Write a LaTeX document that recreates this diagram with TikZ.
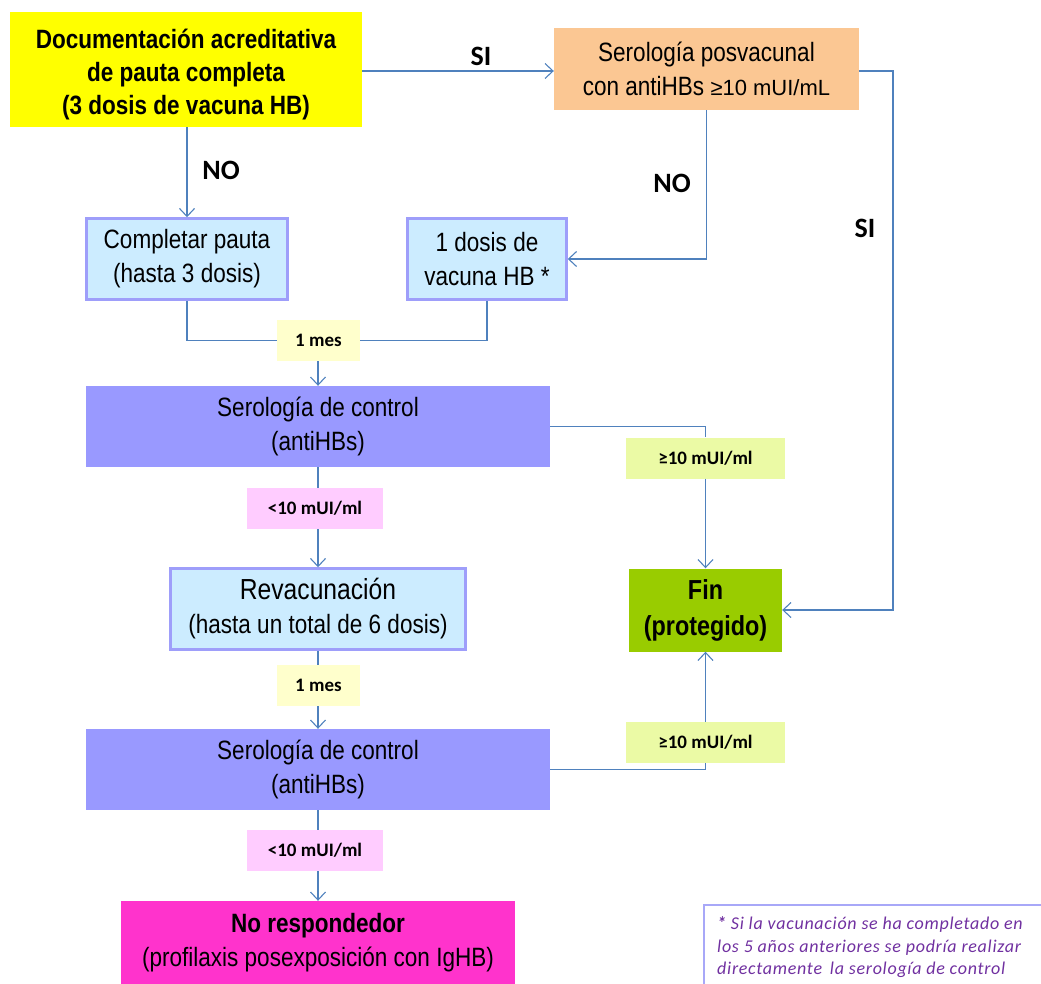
\documentclass[tikz,border=0pt]{standalone}
\usepackage{fontspec}
\setmainfont{Liberation Sans}
\newfontfamily\narfont[FakeStretch=0.85]{Liberation Sans}
\newfontfamily\calfont{Carlito}
\newfontfamily\calspfont[LetterSpace=4]{Carlito}
\usetikzlibrary{arrows.meta}
\definecolor{cyel}{HTML}{FFFF00}
\definecolor{cora}{HTML}{FBC793}
\definecolor{clb}{HTML}{CCECFF}
\definecolor{clbb}{HTML}{9E9EFA}
\definecolor{cper}{HTML}{9999FF}
\definecolor{cmag}{HTML}{FF33CC}
\definecolor{cgrn}{HTML}{99CC00}
\definecolor{lyel}{HTML}{FFFFCC}
\definecolor{lgrn}{HTML}{EBFAA5}
\definecolor{lpnk}{HTML}{FFCCFF}
\definecolor{cline}{HTML}{4F81BD}
\definecolor{cpur}{HTML}{7030A0}
\definecolor{cfnb}{HTML}{A8A8F8}
\begin{document}
\begin{tikzpicture}[x=1pt,y=-1pt,
  box/.style={inner sep=0pt, align=center, text=black},
  bigtext/.style={font={\narfont\fontsize{26.5}{34}\selectfont}},
  boldtext/.style={font={\narfont\bfseries\fontsize{26.5}{33}\selectfont}},
  lbbox/.style={box, fill=clb, draw=clbb, line width=2.5pt, bigtext},
  serbox/.style={box, fill=cper, minimum width=464pt, minimum height=81pt, bigtext},
  lab/.style={box, font={\calfont\bfseries\fontsize{19}{20}\selectfont}},
  mes/.style={lab, fill=lyel, minimum width=83pt, minimum height=41pt},
  gte/.style={lab, fill=lgrn, minimum width=159pt, minimum height=41pt},
  lt/.style={lab, fill=lpnk, minimum width=136pt, minimum height=41pt},
  edgetxt/.style={font={\calfont\bfseries\fontsize{28}{30}\selectfont}},
  line/.style={draw=cline, line width=1.3pt},
  conn/.style={line, -{Straight Barb[length=8pt,width=15pt,line width=1.1pt]}}
]
\useasboundingbox (0,0) rectangle (1041,984);

% main nodes
\node[box, fill=cyel, minimum width=352pt, minimum height=115pt, boldtext] (doc) at (186,69.5)
  {\rule{0pt}{30pt}Documentación acreditativa\\de pauta completa\\(3 dosis de vacuna HB)};
\node[box, fill=cora, minimum width=305pt, minimum height=82pt, bigtext] (sero) at (706.5,69)
  {Serología posvacunal\\con antiHBs {\fontspec{Liberation Sans}\fontsize{22}{30}\selectfont ≥10 mUI/mL}};
\node[lbbox, minimum width=201pt, minimum height=81pt] (comp) at (187,259)
  {Completar pauta\\(hasta 3 dosis)};
\node[lbbox, minimum width=159pt, minimum height=81pt] (dosis) at (487,259)
  {1 dosis de\\vacuna HB *};
\node[serbox] (ser1) at (318,426.5) {Serología de control\\(antiHBs)};
\node[lbbox, minimum width=295pt, minimum height=81pt] (rev) at (318,609)
  {{\fontsize{29}{34}\selectfont Revacunación}\\(hasta un total de 6 dosis)};
\node[serbox] (ser2) at (318,769.5) {Serología de control\\(antiHBs)};
\node[box, fill=cmag, minimum width=394pt, minimum height=84pt, bigtext] (nores) at (318,943)
  {{\bfseries No respondedor}\\(profilaxis posexposición con IgHB)};
\node[box, fill=cgrn, minimum width=153pt, minimum height=83pt, font={\narfont\bfseries\fontsize{27.5}{36}\selectfont}] (fin) at (705.5,610)
  {Fin\\(protegido)};

% condition labels
\node[mes] (m1) at (318.5,340.5) {1 mes};
\node[gte] (g1) at (705.5,458) {≥10 mUI/ml};
\node[lt] (p1) at (315,508.5) {<10 mUI/ml};
\node[mes] (m2) at (318.5,685.5) {1 mes};
\node[gte] (g2) at (705.5,742.5) {≥10 mUI/ml};
\node[lt] (p2) at (315,850.5) {<10 mUI/ml};

% edge texts
\node[edgetxt] (si1) at (481,56) {SI};
\node[edgetxt] (no1) at (221,170) {NO};
\node[edgetxt] (no2) at (672,183) {NO};
\node[edgetxt] (si2) at (865,228) {SI};

% connectors
\draw[conn] (doc.east |- 0,71) -- (sero.west |- 0,71);
\draw[conn] (comp.north |- doc.south) -- (comp.north);
\draw[conn] (sero.south) |- (dosis.east);
\draw[conn] (sero.east |- 0,71) -- (893,71) |- (fin.east);
\draw[line] (comp.south) |- (m1.west);
\draw[line] (dosis.south) |- (m1.east);
\draw[conn] (ser1.north |- m1.south) -- (ser1.north);
\draw[line] (ser1.east) -| (g1.north);
\draw[conn] (g1.south) -- (fin.north);
\draw[line] (ser1.south) -- (ser1.south |- p1.north);
\draw[conn] (rev.north |- p1.south) -- (rev.north);
\draw[line] (rev.south) -- (rev.south |- m2.north);
\draw[conn] (ser2.north |- m2.south) -- (ser2.north);
\draw[line] (ser2.east) -| (g2.south);
\draw[conn] (g2.north) -- (fin.south);
\draw[line] (ser2.south) -- (ser2.south |- p2.north);
\draw[conn] (nores.north |- p2.south) -- (nores.north);

% footnote
\coordinate (fa) at (704,984);
\coordinate (fb) at (704,905);
\coordinate (fc) at (1041,905);
\draw[draw=cfnb, line width=1.5pt] (fa) -- (fb) -- (fc);
\node[anchor=west, align=left, inner sep=0pt, text=cpur, font={\calspfont\itshape\fontsize{18}{22.5}\selectfont}] (fn) at (717,947.5)
  {{\bfseries *} Si la vacunación se ha completado en\\los 5 años anteriores se podría realizar\\directamente\, la serología de control};
\end{tikzpicture}
\end{document}
